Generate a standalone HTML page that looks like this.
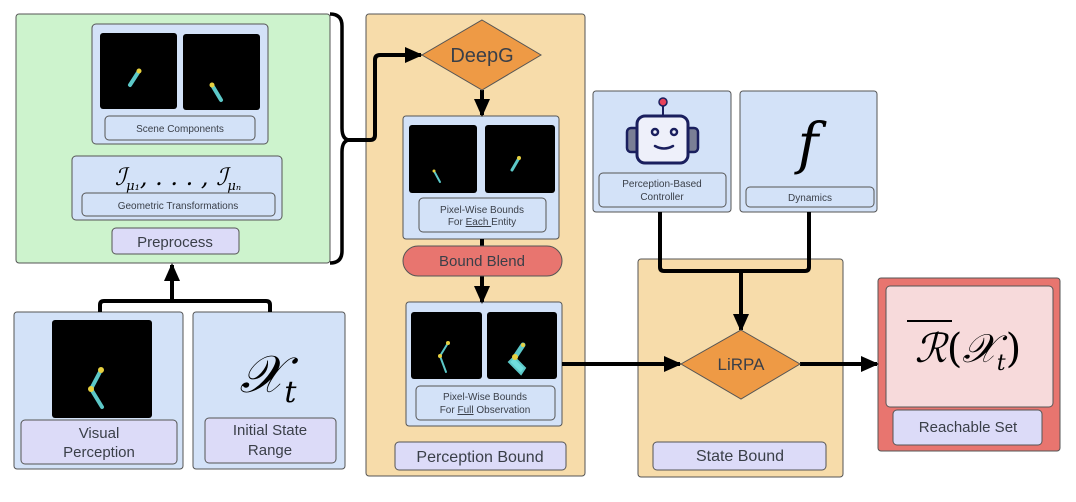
<!DOCTYPE html>
<html><head><meta charset="utf-8"><style>
body{margin:0;background:#fff;width:1076px;height:502px;overflow:hidden}
svg{display:block}
text{font-family:"Liberation Sans",sans-serif;fill:#3a3f48;text-anchor:middle}
.m{font-family:"DejaVu Serif","Liberation Serif",serif;font-style:italic;fill:#000}
</style></head><body>
<svg width="1076" height="502" viewBox="0 0 1076 502">
<defs>
<marker id="b" markerWidth="18" markerHeight="16" refX="16" refY="8" orient="auto" markerUnits="userSpaceOnUse"><path d="M0,0 L18,8 L0,16z" fill="#000"/></marker>
</defs>
<g stroke="#555" stroke-width="1">
<rect x="16" y="14" width="314" height="249" rx="3" fill="#cdf3cd"/>
<rect x="92" y="24" width="176" height="120" rx="4" fill="#d3e2f8"/>
<rect x="100" y="33" width="77" height="76" rx="3" fill="#000" stroke="none"/>
<rect x="183" y="34" width="77" height="76" rx="3" fill="#000" stroke="none"/>
<rect x="105" y="116" width="150" height="24" rx="4" fill="#d3e2f8"/>
<rect x="72" y="156" width="210" height="64" rx="4" fill="#d3e2f8"/>
<rect x="82" y="193" width="193" height="23" rx="4" fill="#d3e2f8"/>
<rect x="112" y="228" width="127" height="26" rx="4" fill="#dcdbf8"/>
<rect x="14" y="312" width="169" height="157" rx="3" fill="#d3e2f8"/>
<rect x="52" y="320" width="100" height="98" rx="3" fill="#000" stroke="none"/>
<rect x="21" y="420" width="156" height="44" rx="4" fill="#dcdbf8"/>
<rect x="193" y="312" width="152" height="157" rx="3" fill="#d3e2f8"/>
<rect x="205" y="418" width="131" height="45" rx="4" fill="#dcdbf8"/>
<rect x="366" y="14" width="219" height="462" rx="3" fill="#f7dcaa"/>
<rect x="403" y="116" width="156" height="123" rx="3" fill="#d3e2f8"/>
<rect x="409" y="125" width="68" height="68" rx="3" fill="#000" stroke="none"/>
<rect x="485" y="125" width="70" height="68" rx="3" fill="#000" stroke="none"/>
<rect x="419" y="198" width="127" height="34" rx="4" fill="#d3e2f8"/>
<rect x="406" y="302" width="156" height="124" rx="3" fill="#d3e2f8"/>
<rect x="411" y="312" width="71" height="67" rx="3" fill="#000" stroke="none"/>
<rect x="487" y="312" width="70" height="67" rx="3" fill="#000" stroke="none"/>
<rect x="416" y="386" width="139" height="34" rx="4" fill="#d3e2f8"/>
<rect x="395" y="442" width="171" height="28" rx="4" fill="#dcdbf8"/>
<rect x="593" y="91" width="138" height="121" rx="3" fill="#d3e2f8"/>
<rect x="599" y="173" width="127" height="34" rx="4" fill="#d3e2f8"/>
<rect x="740" y="91" width="137" height="121" rx="3" fill="#d3e2f8"/>
<rect x="746" y="187" width="128" height="20" rx="4" fill="#d3e2f8"/>
<rect x="638" y="259" width="205" height="218" rx="3" fill="#f7dcaa"/>
<rect x="653" y="442" width="173" height="28" rx="4" fill="#dcdbf8"/>
<rect x="878" y="278" width="182" height="173" rx="3" fill="#e8756f"/>
<rect x="886" y="286" width="167" height="121" rx="4" fill="#f7dadb"/>
<rect x="893" y="410" width="149" height="35" rx="4" fill="#dcdbf8"/>
</g>
<g stroke="#5cc8c8" stroke-width="4" stroke-linecap="round">
<line x1="130" y1="85" x2="139" y2="71"/>
<line x1="212" y1="85" x2="221" y2="100"/>
<line x1="101" y1="370" x2="91" y2="389"/><line x1="91" y1="389" x2="102" y2="407"/>
<line x1="434" y1="171" x2="440" y2="182" stroke-width="2"/>
<line x1="512" y1="170" x2="519" y2="158" stroke-width="3"/>
<line x1="448" y1="343" x2="440" y2="356" stroke-width="2"/><line x1="440" y1="356" x2="446" y2="372" stroke-width="2"/>
<line x1="523" y1="345" x2="515" y2="357" stroke-width="5"/><path d="M514,357 L525,368 L521,374 L509,362z" fill="#6fdede" stroke-width="2"/>
</g>
<g fill="#e6d040">
<circle cx="139" cy="71" r="2.5"/><circle cx="212" cy="85" r="2.5"/><circle cx="101" cy="370" r="3"/><circle cx="91" cy="389" r="3"/>
<circle cx="434" cy="171" r="1.5"/><circle cx="519" cy="158" r="2"/><circle cx="448" cy="343" r="2"/><circle cx="440" cy="356" r="2"/><circle cx="523" cy="345" r="2"/><circle cx="515" cy="357" r="3"/>
</g>
<g fill="none" stroke="#000" stroke-width="4" stroke-linejoin="round">
<path d="M330,14 q12,0 12,12 v102 q0,12 8,12 q-8,0 -8,12 v99 q0,12 -12,12" stroke-width="3.5"/>
<path d="M345,140 h25 q5,0 5,-5 v-75 q0,-5 5,-5 h41" marker-end="url(#b)"/>
<path d="M100,312 v-7 q0,-4 4,-4 h162 q4,0 4,4 v7"/>
<path d="M172,301 v-36" marker-end="url(#b)"/>
<path d="M482,90 v25" marker-end="url(#b)"/>
<path d="M482,239 v7"/>
<path d="M482,276 v26" marker-end="url(#b)"/>
<path d="M562,364 h118" marker-end="url(#b)"/>
<path d="M660,212 v55 q0,4 4,4 h141 q4,0 4,-4 v-55"/>
<path d="M741,271 v59" marker-end="url(#b)"/>
<path d="M800,364 h77" marker-end="url(#b)"/>
</g>
<path d="M482,20 L541,55 L482,90 L422,55z" fill="#ee9a45" stroke="#555"/>
<path d="M741,330 L800,364 L741,399 L681,364z" fill="#ee9a45" stroke="#555"/>
<rect x="403" y="246" width="159" height="30" rx="15" fill="#e8756f" stroke="#555"/>
<g>
<line x1="663" y1="104" x2="663" y2="116" stroke="#1a1f5e" stroke-width="2"/>
<circle cx="663" cy="102" r="4" fill="#e8425a" stroke="#1a1f5e" stroke-width="1.5"/>
<rect x="627" y="128" width="12" height="24" rx="4" fill="#7a7f95" stroke="#1a1f5e" stroke-width="2.5"/>
<rect x="686" y="128" width="12" height="24" rx="4" fill="#7a7f95" stroke="#1a1f5e" stroke-width="2.5"/>
<rect x="637" y="116" width="51" height="47" rx="8" fill="#eef0fa" stroke="#1a1f5e" stroke-width="3"/>
<circle cx="655" cy="132" r="3" fill="none" stroke="#1a1f5e" stroke-width="2.5"/>
<circle cx="674" cy="132" r="3" fill="none" stroke="#1a1f5e" stroke-width="2.5"/>
<path d="M655,146 q9,5 18,0" fill="none" stroke="#1a1f5e" stroke-width="2.5" stroke-linecap="round"/>
</g>
<text x="180" y="132" font-size="10">Scene Components</text>
<text x="178" y="185" font-size="24" class="m">ℐ<tspan font-size="13" dy="5">μ₁</tspan><tspan dy="-5">, . . . , ℐ</tspan><tspan font-size="13" dy="5">μₙ</tspan></text>
<text x="178" y="209" font-size="10">Geometric Transformations</text>
<text x="175" y="247" font-size="15">Preprocess</text>
<text x="99" y="438" font-size="15">Visual</text><text x="99" y="457" font-size="15">Perception</text>
<text x="270" y="435" font-size="15">Initial State</text><text x="270" y="455" font-size="15">Range</text>
<text x="268" y="392" font-size="52" class="m">𝒳<tspan font-size="30" dy="10">t</tspan></text>
<text x="482" y="62" font-size="20">DeepG</text>
<text x="482" y="213" font-size="10">Pixel-Wise Bounds</text>
<text x="482" y="225" font-size="10">For <tspan text-decoration="underline">Each </tspan>Entity</text>
<text x="482" y="266" font-size="15">Bound Blend</text>
<text x="485" y="400" font-size="10">Pixel-Wise Bounds</text>
<text x="485" y="413" font-size="10">For <tspan text-decoration="underline">Full</tspan> Observation</text>
<text x="480" y="462" font-size="16">Perception Bound</text>
<text x="662" y="187" font-size="10">Perception-Based</text>
<text x="662" y="200" font-size="10">Controller</text>
<text x="810" y="201" font-size="10">Dynamics</text>
<text x="808" y="163" font-size="56" class="m">f</text>
<text x="741" y="370" font-size="17">LiRPA</text>
<text x="740" y="461" font-size="16">State Bound</text>
<text x="968" y="432" font-size="15">Reachable Set</text>
<line x1="907" y1="321" x2="952" y2="321" stroke="#000" stroke-width="2"/>
<text x="968" y="362" font-size="40" class="m">ℛ<tspan font-style="normal">(</tspan>𝒳<tspan font-size="22" dy="8">t</tspan><tspan dy="-8" font-style="normal">)</tspan></text>
</svg>
</body></html>
